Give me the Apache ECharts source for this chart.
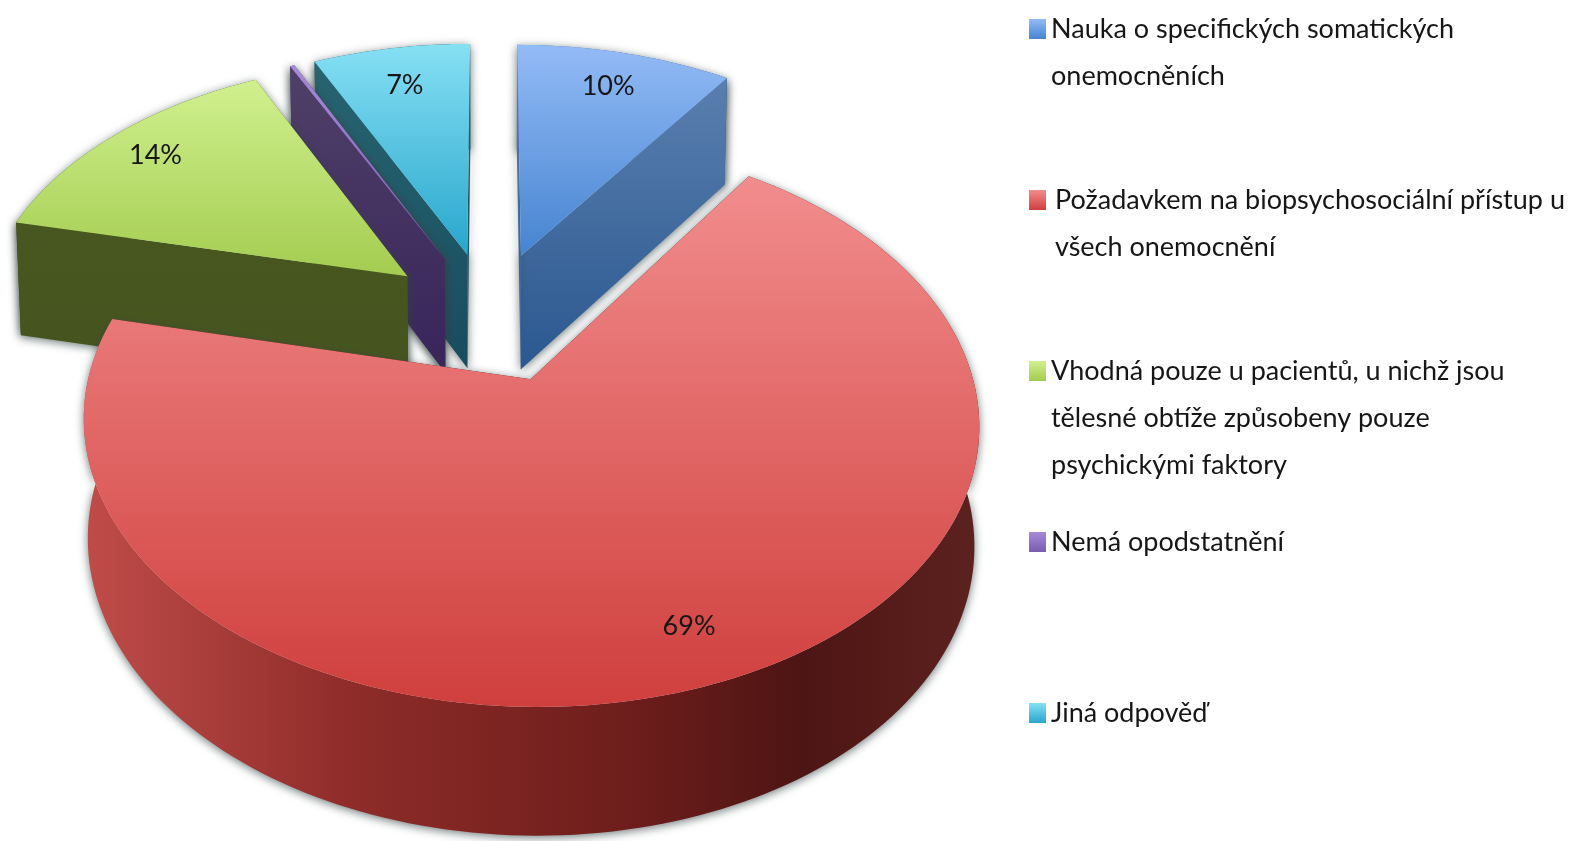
<!DOCTYPE html>
<html>
<head>
<meta charset="utf-8">
<title>Pie</title>
<script src="https://cdn.jsdelivr.net/npm/echarts@6/dist/echarts.min.js"></script>
<style>
  html, body { margin: 0; padding: 0; background: #fff; }
  #chart { width: 1583px; height: 841px; }
</style>
</head>
<body>
<div id="chart"></div>
<script>
// data
const categories = [
  ['Nauka o specifických somatických', 'onemocněních'],
  ['Požadavkem na biopsychosociální přístup u', 'všech onemocnění'],
  ['Vhodná pouze u pacientů, u nichž jsou', 'tělesné obtíže způsobeny pouze', 'psychickými faktory'],
  ['Nemá opodstatnění'],
  ['Jiná odpověď']
]
const values = [9.6, 69, 14.2, 0.2, 7]

// colours per slice: top face (light, dark), wall (a, b)
const topColors = [['#93bbf6', '#4684d0'], ['#f28d8d', '#cf3f3d'], ['#d0f08e', '#a4cc50'], ['#a78ad8', '#7a5cb0'], ['#86e0f4', '#28a6cc']]
const wallColors = [['#5a7fae', '#2a5890'], ['#c04c49', '#4d1513'], ['#47571f', '#45541e'], ['#4f4068', '#38245a'], ['#276470', '#184c5e']]
const legendColors = ['#4a86d0', '#d9544f', '#a8cf5c', '#8f6cc0', '#3fb8d8']
// painted back to front
const drawOrder = [4, 3, 2, 0, 1]
const legendIconCenters = [25, 196, 367, 538, 709]
const legendLeft = 1029
const legendTextPad = [0, 4, 0, 0, 0]
const labelRadius = [0.82, 0.84, 0.85, 0.8, 0.8]

// fake 3D: disc seen in perspective, slices pushed out along their bisector
const X0 = 490, Y0 = 316, RX = 427, RY = 258.5, PERSP = 0.148
const DEPTH = 116, DEPTH_PERSP = 0.08, BOTTOM_SHRINK = 0.99
const EXPLODE = 0.253
const LINE_H = 47
const FONT = 'Lato, sans-serif'

const total = values.reduce((a, b) => a + b, 0)
const names = categories.map((c) => c.join(' '))

function sliceAngles(i) {
  const before = values.slice(0, i).reduce((a, b) => a + b, 0)
  return [before / total * Math.PI * 2, (before + values[i]) / total * Math.PI * 2]
}

function project(x, t, bottom) {
  const w = 1 + PERSP * t
  let sx = X0 + RX * x / w
  let sy = Y0 - RY * t / w
  if (bottom) {
    sx = X0 + (sx - X0) * BOTTOM_SHRINK
    sy += DEPTH / (1 + DEPTH_PERSP * t)
  }
  return [sx, sy]
}

function gradient(horizontal, stops) {
  return new echarts.graphic.LinearGradient(0, 0, horizontal ? 1 : 0, horizontal ? 0 : 1, stops)
}

function twoStops(pair) {
  return [{ offset: 0, color: pair[0] }, { offset: 1, color: pair[1] }]
}

function renderSlice(i) {
  const [a0, a1] = sliceAngles(i)
  const mid = (a0 + a1) / 2
  const ox = Math.sin(mid) * EXPLODE
  const ot = Math.cos(mid) * EXPLODE
  const rim = (a) => [ox + Math.sin(a), ot + Math.cos(a)]
  const steps = Math.max(4, Math.ceil((a1 - a0) * 40))
  const rimTop = [], rimBottom = []
  for (let s = 0; s <= steps; s++) {
    const p = rim(a0 + (a1 - a0) * s / steps)
    rimTop.push(project(p[0], p[1], false))
    rimBottom.push(project(p[0], p[1], true))
  }
  const apexTop = project(ox, ot, false)
  const apexBottom = project(ox, ot, true)
  const wc = wallColors[i]
  const shadow = { shadowBlur: 10, shadowColor: 'rgba(50,65,65,0.7)', shadowOffsetY: 2 }
  const isRed = i === 1
  const wallFill = gradient(true, isRed
    ? [{ offset: 0, color: wc[0] }, { offset: 0.3, color: '#8e2c29' }, { offset: 0.62, color: '#6c1d1b' }, { offset: 0.8, color: wc[1] }, { offset: 1, color: '#5c221f' }]
    : twoStops(wc))
  const cutFill = isRed ? wc[1] : gradient(false, twoStops(wc))

  const rimWall = { type: 'polygon', shape: { points: rimTop.concat(rimBottom.slice().reverse()) }, style: { fill: wallFill, ...shadow } }
  const cuts = [
    { type: 'polygon', shape: { points: [apexTop, rimTop[steps], rimBottom[steps], apexBottom] }, style: { fill: cutFill, ...shadow } },
    { type: 'polygon', shape: { points: [apexTop, rimTop[0], rimBottom[0], apexBottom] }, style: { fill: cutFill, ...shadow } }
  ]
  // the rim is at the front only on the big slice
  const children = isRed ? cuts.concat(rimWall) : [rimWall].concat(cuts)
  children.push({
    type: 'polygon',
    shape: { points: [apexTop].concat(rimTop) },
    style: { fill: gradient(false, twoStops(topColors[i])) }
  })
  const pct = Math.round(values[i] / total * 100)
  if (pct >= 1) {
    const lp = project(ox + Math.sin(mid) * labelRadius[i], ot + Math.cos(mid) * labelRadius[i], false)
    children.push({
      type: 'text',
      style: { text: pct + '%', x: lp[0], y: lp[1], align: 'center', verticalAlign: 'middle', font: '27px ' + FONT, fill: '#161616' }
    })
  }
  return { type: 'group', children }
}

const chart = echarts.init(document.getElementById('chart'))

chart.setOption({
  animation: false,
  backgroundColor: '#fff',
  // one legend per item since the gaps between them are not even
  legend: categories.map((lines, i) => ({
    data: [names[i]],
    selectedMode: false,
    orient: 'vertical',
    left: legendLeft,
    top: legendIconCenters[i] - (2 * lines.length - 1) * LINE_H / 2,
    padding: 0,
    icon: 'rect',
    itemWidth: 17,
    itemHeight: 20,
    itemGap: 0,
    itemStyle: { color: gradient(false, twoStops(topColors[i])) },
    formatter: () => '\n'.repeat(lines.length - 1) + lines.join('\n'),
    textStyle: { fontFamily: FONT, fontSize: 27, lineHeight: LINE_H, color: '#161616', padding: [8, 0, 0, legendTextPad[i]] }
  })),
  series: drawOrder.map((i) => ({
    type: 'custom',
    name: names[i],
    coordinateSystem: 'none',
    silent: true,
    itemStyle: { color: legendColors[i] },
    data: [values[i]],
    renderItem: () => renderSlice(i)
  }))
})

window.addEventListener('resize', () => chart.resize())
</script>
</body>
</html>
